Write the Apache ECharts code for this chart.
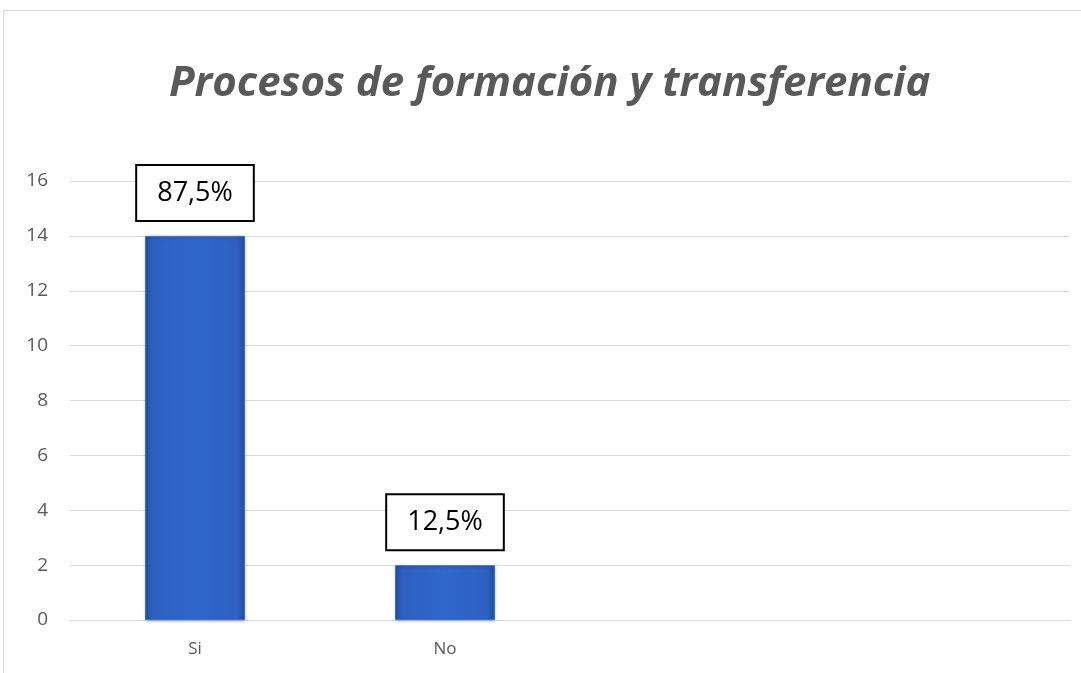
<!DOCTYPE html>
<html>
<head>
<meta charset="utf-8">
<script src="https://cdn.jsdelivr.net/npm/echarts@6/dist/echarts.min.js"></script>
<style>
  html, body { margin: 0; padding: 0; background: #fff; }
  #frame {
    position: absolute; left: 3px; top: 10px;
    width: 1100px; height: 700px;
    border: 1px solid #d9d9d9;
  }
  #chart { position: absolute; left: 0; top: 0; width: 1081px; height: 673px; }
</style>
</head>
<body>
<div id="frame"></div>
<div id="chart"></div>
<script>
// datos del grafico
const categories = ["Si", "No", "", ""];
const values = [14, 2, null, null];
const percentLabels = ["87,5%", "12,5%", "", ""];
const yTicks = { min: 0, max: 16, interval: 2 };

const chart = echarts.init(document.getElementById("chart"));

const barColor = new echarts.graphic.LinearGradient(0, 0, 1, 0, [
  { offset: 0, color: "#234f9e" },
  { offset: 0.08, color: "#2d60c0" },
  { offset: 0.5, color: "#3067cb" },
  { offset: 0.92, color: "#2d60c0" },
  { offset: 1, color: "#234f9e" },
]);

const option = {
  backgroundColor: "transparent",
  title: {
    text: "Procesos de formación y transferencia",
    left: 164,
    top: 58,
    textStyle: {
      fontFamily: "Open Sans",
      fontStyle: "italic",
      fontWeight: "bold",
      fontSize: 42,
      color: "#595959",
    },
  },
  grid: { left: 70, right: 11, top: 181, bottom: 53 },
  xAxis: {
    type: "category",
    data: categories,
    axisLine: { show: true, lineStyle: { color: "#d9d9d9", width: 1 } },
    axisTick: { show: false },
    axisLabel: {
      color: "#595959",
      fontFamily: "Open Sans",
      fontSize: 17,
      margin: 21,
    },
  },
  yAxis: {
    type: "value",
    min: yTicks.min,
    max: yTicks.max,
    interval: yTicks.interval,
    axisLine: { show: false },
    axisTick: { show: false },
    splitLine: { lineStyle: { color: "#d9d9d9", width: 1 } },
    axisLabel: {
      color: "#595959",
      fontFamily: "Open Sans",
      fontSize: 19,
      margin: 22,
    },
  },
  series: [
    {
      type: "bar",
      data: values,
      barWidth: 100,
      itemStyle: {
        color: barColor,
        borderColor: "#3a73d8",
        borderWidth: 1,
        shadowColor: "rgba(0,0,0,0.25)",
        shadowBlur: 3,
        shadowOffsetY: 1,
      },
      label: {
        show: true,
        position: "top",
        distance: 16,
        formatter: (p) => percentLabels[p.dataIndex],
        color: "#000",
        fontFamily: "Open Sans",
        fontSize: 27,
        lineHeight: 32,
        backgroundColor: "#fff",
        borderColor: "#000",
        borderWidth: 2,
        padding: [11, 20, 11, 20],
      },
    },
  ],
};

chart.setOption(option);
</script>
</body>
</html>
